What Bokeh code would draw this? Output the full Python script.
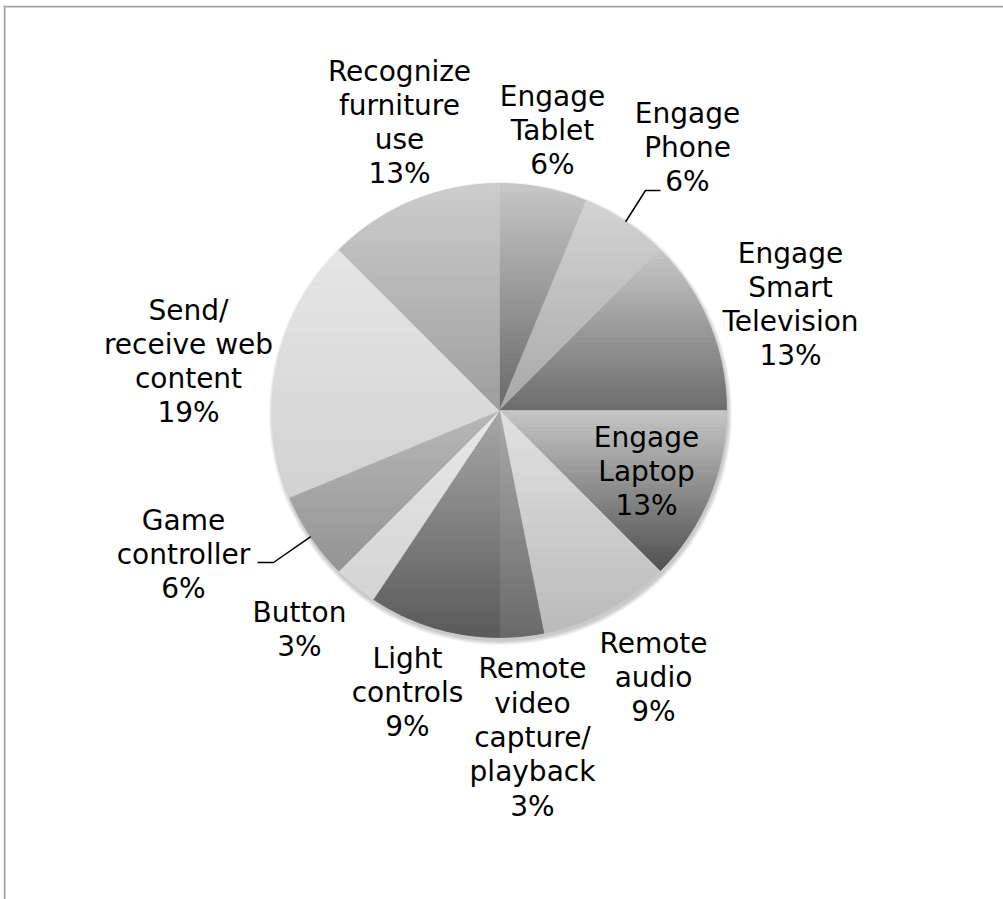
import math
from bokeh.plotting import figure
from bokeh.models import Range1d
from bokeh.core.properties import value
from bokeh.embed import file_html
from bokeh.resources import INLINE

# ---------------- data ----------------
categories = ["Engage Tablet", "Engage Phone", "Engage Smart Television", "Engage Laptop",
              "Remote audio", "Remote video capture/playback", "Light controls", "Button",
              "Game controller", "Send/receive web content", "Recognize furniture use"]
label_lines = ["Engage\nTablet", "Engage\nPhone", "Engage\nSmart\nTelevision", "Engage\nLaptop",
               "Remote\naudio", "Remote\nvideo\ncapture/\nplayback", "Light\ncontrols", "Button",
               "Game\ncontroller", "Send/\nreceive web\ncontent", "Recognize\nfurniture\nuse"]
counts = [2, 2, 4, 4, 3, 1, 3, 1, 2, 6, 4]

# ---------------- style ----------------
top_colors = ["#c8c8c8", "#d4d4d4", "#c8c8c8", "#c8c8c8", "#e2e2e2", "#ababab",
              "#a8a8a8", "#e8e8e8", "#b8b8b8", "#e6e6e6", "#cdcdcd"]
bottom_colors = ["#686868", "#a8a8a8", "#6c6c6c", "#505050", "#bababa", "#6a6a6a",
                 "#5a5a5a", "#d4d4d4", "#949494", "#d2d2d2", "#9e9e9e"]

W, H = 1000, 894
OX, OY = 3, 5  # page offset of the figure


def dx(xi):
    return xi - OX


def dy(yi):
    return (OY + H) - yi


cx, cy, R = dx(499), dy(410), 227

# label centres in image pixels (layout)
label_pos = [(552, 130), (687, 147), (790, 304), (646, 471), (653, 677), (532, 737),
             (407, 692), (299, 629), (183, 554), (188, 361), (399, 122)]
# leader lines: slice index -> (elbow, end) in image pixels
leaders = {1: ((645, 190), (660, 190)), 8: ((273, 562), (257, 562))}


def hex2rgb(h):
    return tuple(int(h[i:i + 2], 16) for i in (1, 3, 5))


def rgb2hex(c):
    return "#%02x%02x%02x" % tuple(int(round(v)) for v in c)


def clip(poly, y0, y1):
    def half(pts, inside, yl):
        out = []
        n = len(pts)
        for i in range(n):
            a, b = pts[i], pts[(i + 1) % n]
            ia, ib = inside(a), inside(b)
            if ia:
                out.append(a)
            if ia != ib:
                t = (yl - a[1]) / (b[1] - a[1])
                out.append((a[0] + t * (b[0] - a[0]), yl))
        return out
    pts = half(poly, lambda p: p[1] >= y0, y0)
    if not pts:
        return []
    pts = half(pts, lambda p: p[1] <= y1, y1)
    return pts


total = sum(counts)
pcts = [math.floor(100.0 * c / total + 0.5) for c in counts]

p = figure(width=W, height=H, x_range=Range1d(0, W), y_range=Range1d(0, H),
           output_backend="svg", toolbar_location=None, min_border=0)
p.axis.visible = False
p.grid.visible = False
p.outline_line_color = None
p.background_fill_color = "white"
p.border_fill_color = "white"
p.styles = {"position": "absolute", "left": "%dpx" % OX, "top": "%dpx" % OY}

# border (top and left only)
p.line([0, W], [H - 1, H - 1], line_color="#a3a3a3", line_width=2)
p.line([1, 1], [0, H], line_color="#a3a3a3", line_width=2)

# soft shadow
for k in range(1, 6):
    p.circle(x=cx + 1, y=cy - 3, radius=R + k * 0.9, fill_color="black",
             fill_alpha=0.045, line_color=None)

# wedges (base)
cum = 0
starts, ends, mids = [], [], []
for c in counts:
    a0 = 2 * math.pi * cum / total
    cum += c
    a1 = 2 * math.pi * cum / total
    starts.append(a0)
    ends.append(a1)
    mids.append((a0 + a1) / 2)

mid_colors = [rgb2hex([(a + b) / 2 for a, b in zip(hex2rgb(t), hex2rgb(bc))])
              for t, bc in zip(top_colors, bottom_colors)]
p.wedge(x=[cx] * len(counts), y=[cy] * len(counts), radius=R,
        start_angle=[math.pi / 2 - a for a in starts],
        end_angle=[math.pi / 2 - a for a in ends],
        direction="clock", fill_color=mid_colors, line_color=None)

# vertical gradient bands per slice
xs, ys, cols = [], [], []
NB = 70
for i in range(len(counts)):
    a0, a1 = starts[i], ends[i]
    n = max(6, int(math.degrees(a1 - a0) * 1.5))
    poly = [(cx, cy)] + [(cx + R * math.sin(a0 + (a1 - a0) * j / n),
                          cy + R * math.cos(a0 + (a1 - a0) * j / n)) for j in range(n + 1)]
    ymin = min(q[1] for q in poly)
    ymax = max(q[1] for q in poly)
    tc, bc = hex2rgb(top_colors[i]), hex2rgb(bottom_colors[i])
    for k in range(NB):
        yt = ymax - (ymax - ymin) * k / NB
        yb = ymax - (ymax - ymin) * (k + 1) / NB
        seg = clip(poly, yb, yt)
        if len(seg) < 3:
            continue
        t = (k + 0.5) / NB
        col = rgb2hex([a + (b - a) * t for a, b in zip(tc, bc)])
        xs.append([q[0] for q in seg])
        ys.append([q[1] for q in seg])
        cols.append(col)
p.patches(xs, ys, fill_color=cols, line_color=cols, line_width=0.7)

# leader lines
for i, (elbow, end) in leaders.items():
    ex = cx + R * math.sin(mids[i])
    ey = cy + R * math.cos(mids[i])
    p.line([ex, dx(elbow[0]), dx(end[0])], [ey, dy(elbow[1]), dy(end[1])],
           line_color="black", line_width=1.5)

# labels
texts = ["%s\n%d%%" % (l, v) for l, v in zip(label_lines, pcts)]
p.text(x=[dx(q[0]) for q in label_pos], y=[dy(q[1]) for q in label_pos], text=texts,
       text_font=value("DejaVu Sans"), text_font_size="28px", text_align="center",
       text_baseline="middle", text_line_height=1.04, text_color="black")

open("out.html", "w").write(file_html(p, INLINE))
